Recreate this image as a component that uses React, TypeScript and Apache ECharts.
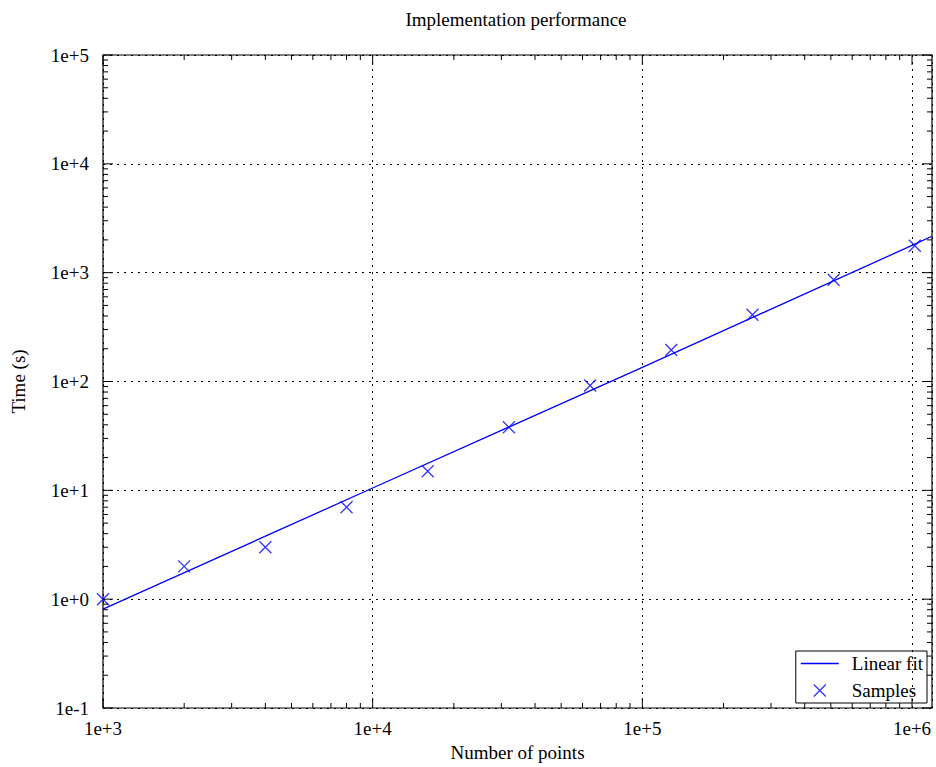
import React, { useEffect, useRef } from "react";
import * as echarts from "echarts";

const xTickValues = [1e3, 1e4, 1e5, 1e6];
const xTickLabels = ["1e+3", "1e+4", "1e+5", "1e+6"];
const yTickValues = [1e-1, 1e0, 1e1, 1e2, 1e3, 1e4, 1e5];
const yTickLabels = ["1e-1", "1e+0", "1e+1", "1e+2", "1e+3", "1e+4", "1e+5"];

const xMinorTicks = [
  2e3, 3e3, 4e3, 5e3, 6e3, 7e3, 8e3, 9e3,
  2e4, 3e4, 4e4, 5e4, 6e4, 7e4, 8e4, 9e4,
  2e5, 3e5, 4e5, 5e5, 6e5, 7e5, 8e5, 9e5,
];
const yMinorTicks = [
  0.2, 0.3, 0.4, 0.5, 0.6, 0.7, 0.8, 0.9,
  2, 3, 4, 5, 6, 7, 8, 9,
  20, 30, 40, 50, 60, 70, 80, 90,
  200, 300, 400, 500, 600, 700, 800, 900,
  2e3, 3e3, 4e3, 5e3, 6e3, 7e3, 8e3, 9e3,
  2e4, 3e4, 4e4, 5e4, 6e4, 7e4, 8e4, 9e4,
];

const sampleX = [1000, 2000, 4000, 8000, 16000, 32000, 64000, 128000, 256000, 512000, 1024000];
const sampleY = [1.0, 2.0, 3.0, 7.0, 15, 38, 92, 195, 410, 860, 1770];

const fitX = [1e3, 1e4, 1e5, 1e6, 1.186e6];
const fitY = [0.81, 10.5, 135, 1780, 2160];

const X_MIN = 1e3;
const X_MAX = 1.186e6;
const Y_MIN = 1e-1;
const Y_MAX = 1e5;

const FONT = "'Liberation Serif', 'DejaVu Serif', serif";
const FS = 19;

function labelFor(values: number[], labels: string[], v: number): string {
  for (let i = 0; i < values.length; i++) {
    if (Math.abs(v - values[i]) <= values[i] * 1e-6) return labels[i];
  }
  return "";
}

function xTickSeries(len: number, values: number[]) {
  return {
    type: "custom",
    silent: true,
    z: 5,
    data: values.map((v) => [v, Y_MIN]),
    renderItem: (params: any, api: any) => {
      const v = api.value(0);
      const b = api.coord([v, Y_MIN]);
      const t = api.coord([v, Y_MAX]);
      return {
        type: "group",
        children: [
          { type: "line", shape: { x1: b[0], y1: b[1], x2: b[0], y2: b[1] - len }, style: { stroke: "#000", lineWidth: 1 } },
          { type: "line", shape: { x1: t[0], y1: t[1], x2: t[0], y2: t[1] + len }, style: { stroke: "#000", lineWidth: 1 } },
        ],
      };
    },
  };
}

function yTickSeries(len: number, values: number[]) {
  return {
    type: "custom",
    silent: true,
    z: 5,
    data: values.map((v) => [X_MIN, v]),
    renderItem: (params: any, api: any) => {
      const v = api.value(1);
      const l = api.coord([X_MIN, v]);
      const r = api.coord([X_MAX, v]);
      return {
        type: "group",
        children: [
          { type: "line", shape: { x1: l[0], y1: l[1], x2: l[0] + len, y2: l[1] }, style: { stroke: "#000", lineWidth: 1 } },
          { type: "line", shape: { x1: r[0], y1: r[1], x2: r[0] - len, y2: r[1] }, style: { stroke: "#000", lineWidth: 1 } },
        ],
      };
    },
  };
}

export default function App() {
  const ref = useRef<HTMLDivElement>(null);

  useEffect(() => {
    if (!ref.current) return;
    const chart = echarts.init(ref.current, null, { renderer: "svg" });
    const crossPath = "path://M0,0L10,10M10,0L0,10";
    const linePath = "path://M0,0L38,0L38,1.3L0,1.3Z";
    chart.setOption({
      animation: false,
      backgroundColor: "#fff",
      textStyle: { fontFamily: FONT, color: "#000" },
      title: {
        text: "Implementation performance",
        left: 511,
        top: 5,
        textAlign: "center",
        textStyle: { fontFamily: FONT, fontSize: FS, fontWeight: "normal", color: "#000" },
      },
      grid: {
        left: 103,
        right: 4,
        top: 55,
        bottom: 58,
        show: true,
        borderColor: "#000",
        borderWidth: 1.2,
        backgroundColor: "transparent",
      },
      legend: {
        orient: "vertical",
        right: 9,
        bottom: 64,
        padding: [3, 4, 3, 5],
        itemGap: 8,
        itemWidth: 38,
        itemHeight: 12,
        borderColor: "#000",
        borderWidth: 1,
        backgroundColor: "transparent",
        textStyle: { fontFamily: FONT, fontSize: FS, color: "#000", padding: [0, 0, 0, 8] },
        data: [
          { name: "Linear fit", icon: linePath, itemStyle: { color: "#0000ff", borderWidth: 0 } },
          { name: "Samples", icon: crossPath, itemStyle: { color: "transparent", borderColor: "#0000ff", borderWidth: 1.3 } },
        ],
      },
      xAxis: {
        type: "log",
        logBase: 10,
        min: X_MIN,
        max: X_MAX,
        splitNumber: 3,
        name: "Number of points",
        nameLocation: "middle",
        nameGap: 35,
        nameTextStyle: { fontFamily: FONT, fontSize: FS, color: "#000" },
        axisLine: { show: false },
        axisTick: { show: false },
        minorTick: { show: false },
        axisLabel: {
          margin: 11,
          fontFamily: FONT,
          fontSize: FS,
          color: "#000",
          formatter: (v: number) => labelFor(xTickValues, xTickLabels, v),
        },
        splitLine: { show: true, lineStyle: { color: "#000", width: 1, type: [2, 5] } },
      },
      yAxis: {
        type: "log",
        logBase: 10,
        min: Y_MIN,
        max: Y_MAX,
        splitNumber: 6,
        name: "Time (s)",
        nameLocation: "middle",
        nameGap: 75,
        nameTextStyle: { fontFamily: FONT, fontSize: FS, color: "#000" },
        axisLine: { show: false },
        axisTick: { show: false },
        minorTick: { show: false },
        axisLabel: {
          margin: 14,
          fontFamily: FONT,
          fontSize: FS,
          color: "#000",
          formatter: (v: number) => labelFor(yTickValues, yTickLabels, v),
        },
        splitLine: { show: true, lineStyle: { color: "#000", width: 1, type: [2, 5] } },
      },
      series: [
        {
          name: "Linear fit",
          type: "line",
          symbol: "none",
          clip: true,
          z: 3,
          lineStyle: { color: "#0000ff", width: 1.3 },
          itemStyle: { color: "#0000ff" },
          data: fitX.map((x, i) => [x, fitY[i]]),
        },
        {
          name: "Samples",
          type: "scatter",
          symbol: crossPath,
          symbolSize: 12,
          z: 4,
          itemStyle: { color: "transparent", borderColor: "#0000ff", borderWidth: 1.3 },
          data: sampleX.map((x, i) => [x, sampleY[i]]),
        },
        xTickSeries(10, xTickValues),
        xTickSeries(5, xMinorTicks),
        yTickSeries(10, yTickValues),
        yTickSeries(5, yMinorTicks),
      ],
    });
    return () => chart.dispose();
  }, []);

  return <div ref={ref} style={{ position: "fixed", left: 0, top: 0, width: 936, height: 767 }} />;
}
